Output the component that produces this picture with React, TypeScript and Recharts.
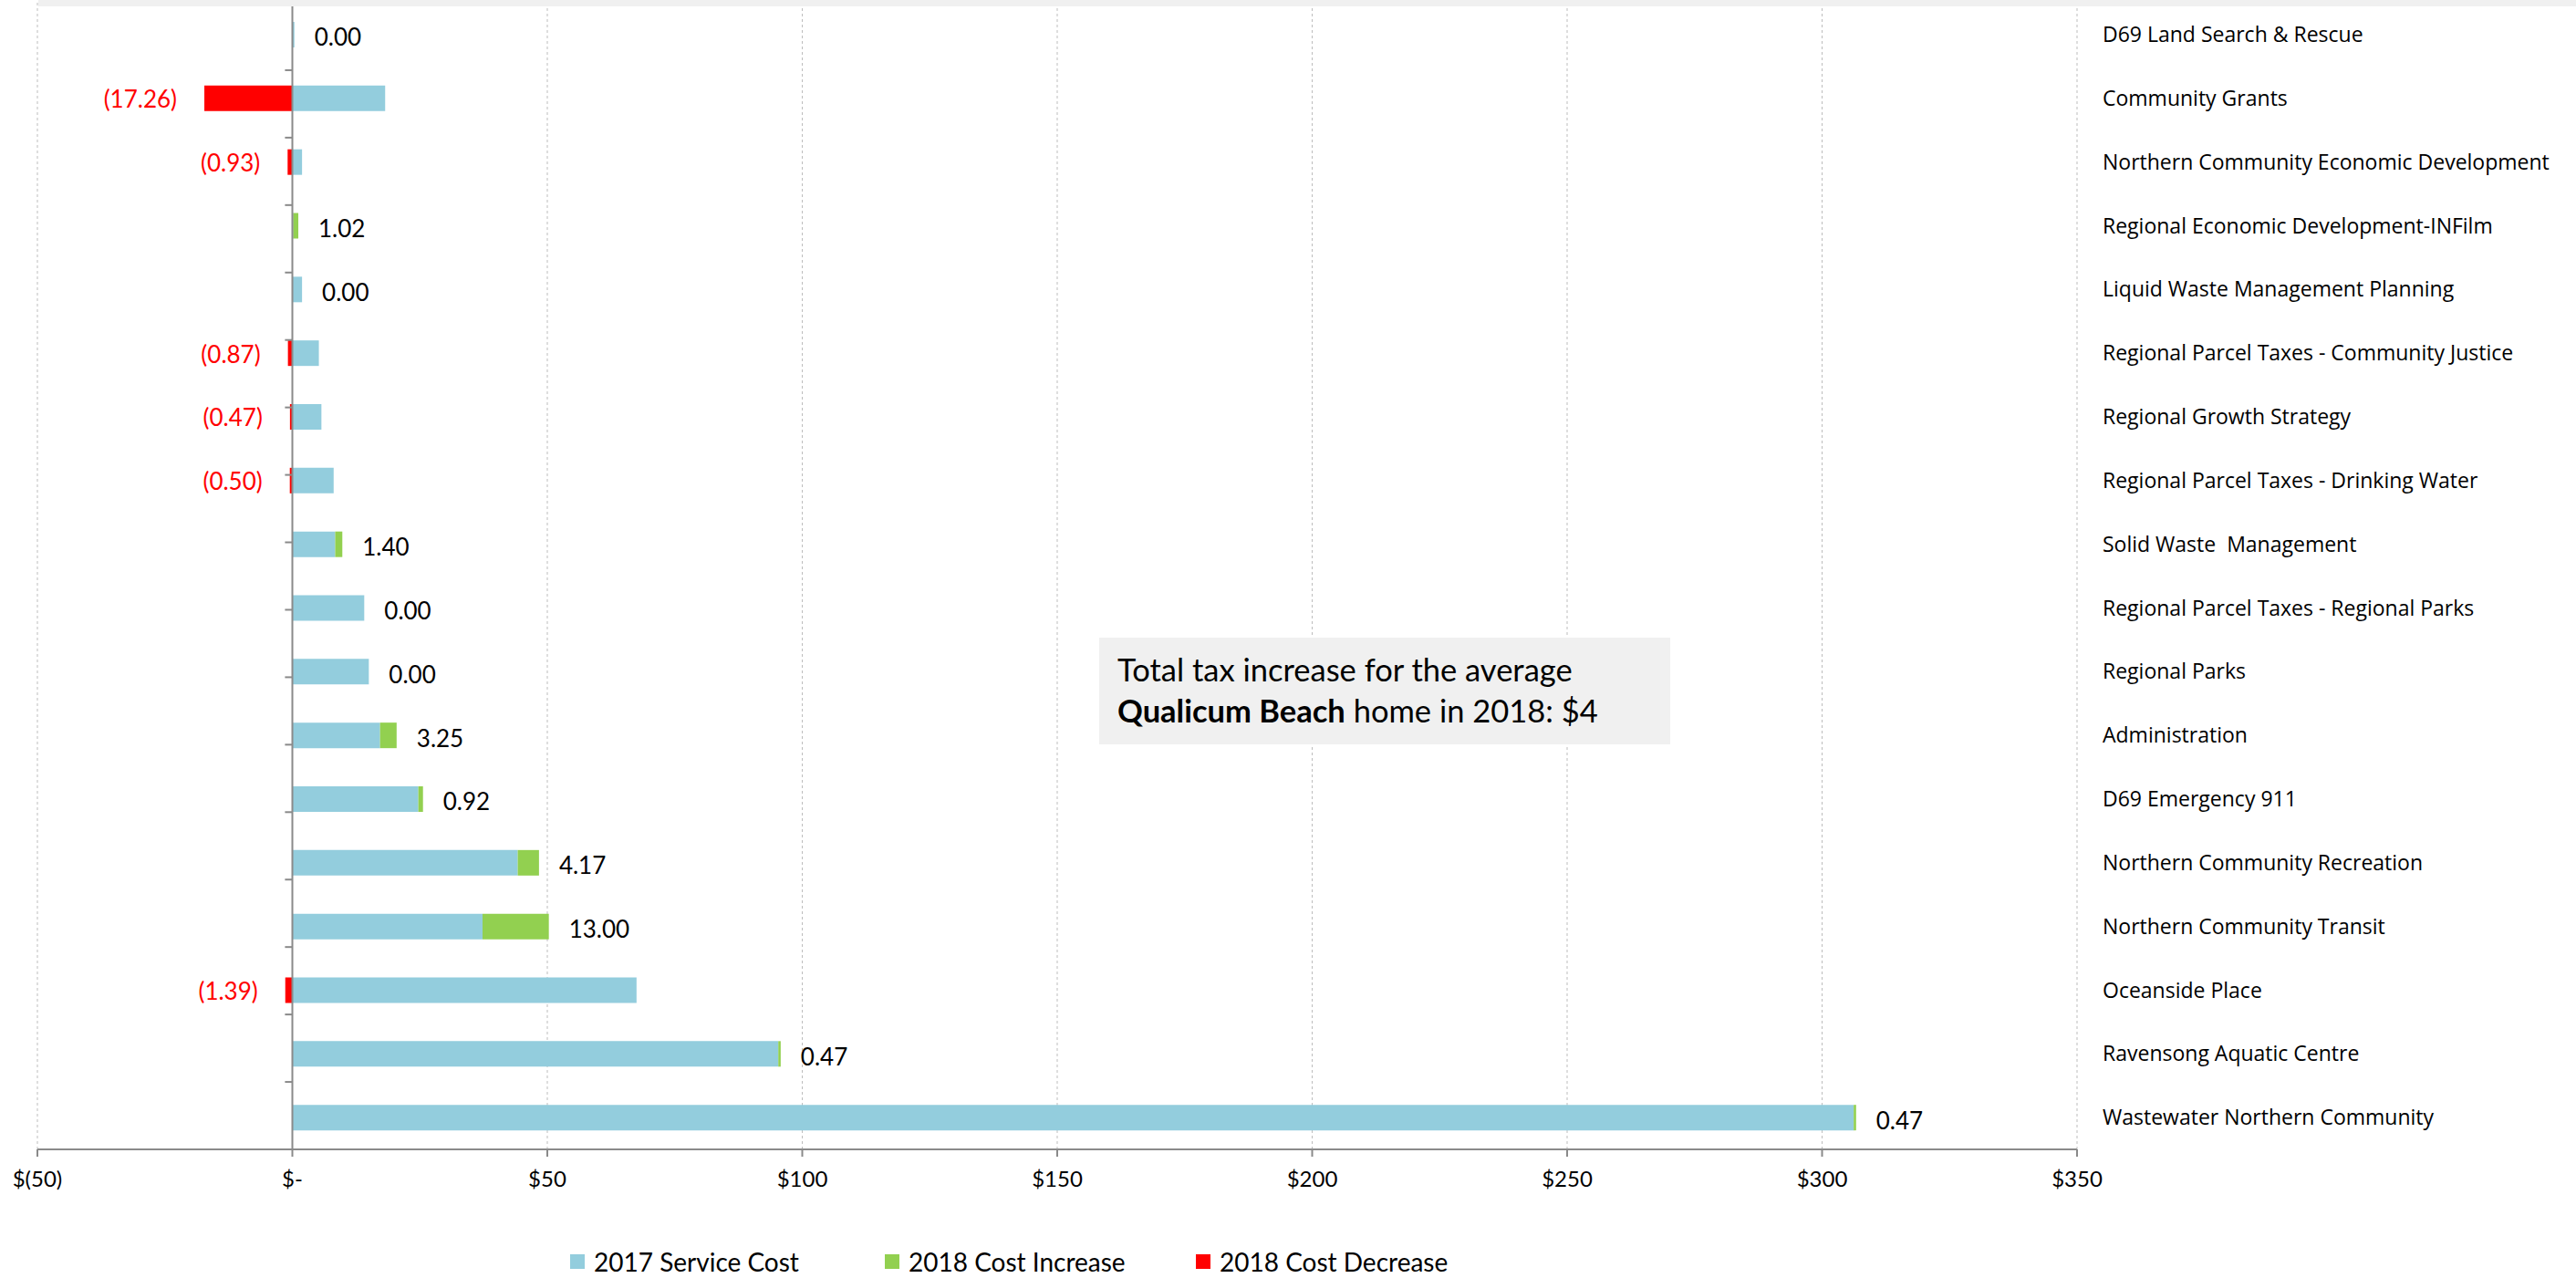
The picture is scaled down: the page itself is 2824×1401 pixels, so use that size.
import React from 'react';
import {
  BarChart, Bar, XAxis, YAxis, CartesianGrid, ReferenceLine, LabelList, Legend,
} from 'recharts';

const categories = [
  'D69 Land Search & Rescue',
  'Community Grants',
  'Northern Community Economic Development',
  'Regional Economic Development-INFilm',
  'Liquid Waste Management Planning',
  'Regional Parcel Taxes - Community Justice',
  'Regional Growth Strategy',
  'Regional Parcel Taxes - Drinking Water',
  'Solid Waste\u00A0 Management',
  'Regional Parcel Taxes - Regional Parks',
  'Regional Parks',
  'Administration',
  'D69 Emergency 911',
  'Northern Community Recreation',
  'Northern Community Transit',
  'Oceanside Place',
  'Ravensong Aquatic Centre',
  'Wastewater Northern Community',
];

const cost2017 = [0.4, 18.2, 1.9, 0.15, 1.9, 5.2, 5.7, 8.1, 8.4, 14.1, 15.0, 17.2, 24.7, 44.2, 37.3, 67.5, 95.3, 306.2];
const increase2018 = [0, 0, 0, 1.02, 0, 0, 0, 0, 1.4, 0, 0, 3.25, 0.92, 4.17, 13.0, 0, 0.47, 0.47];
const decrease2018 = [0, -17.26, -0.93, 0, 0, -0.87, -0.47, -0.5, 0, 0, 0, 0, 0, 0, 0, -1.39, 0, 0];

const xTicks = [-50, 0, 50, 100, 150, 200, 250, 300, 350];
const boundaryIdx = [1, 2, 3, 4, 5, 6, 7, 8, 9, 10, 11, 12, 13, 14, 15, 16, 17];

const seriesNames = ['2017 Service Cost', '2018 Cost Increase', '2018 Cost Decrease'];
const colors = ['#93CDDD', '#92D050', '#FF0000'];

const data = categories.map((name, i) => ({
  name,
  base: cost2017[i],
  inc: increase2018[i],
  dec: decrease2018[i],
  incLabel: decrease2018[i] === 0 && increase2018[i] > 0 ? increase2018[i].toFixed(2) : null,
  zeroLabel: decrease2018[i] === 0 && increase2018[i] === 0 ? increase2018[i].toFixed(2) : null,
  decLabel: decrease2018[i] !== 0 ? `(${Math.abs(decrease2018[i]).toFixed(2)})` : null,
}));

const fmtTick = (v: number) => (v < 0 ? `$(${-v})` : v === 0 ? '$-' : `$${v}`);

const CAL = 'Lato, "Open Sans", sans-serif';
const LABEL_SIZE = 26;

const RightLabel = (props: any) => {
  const { value } = props;
  if (value === null || value === undefined) return null;
  const vb = props.viewBox || props;
  const x = Math.max(vb.x, vb.x + vb.width) + 22;
  const y = vb.y + vb.height / 2 + 3;
  return (
    <text x={x} y={y} dy="0.36em" textAnchor="start" fill="#000" fontFamily={CAL} fontSize={LABEL_SIZE}>
      {value}
    </text>
  );
};

const LeftLabel = (props: any) => {
  const { value } = props;
  if (value === null || value === undefined) return null;
  const vb = props.viewBox || props;
  const x = Math.min(vb.x, vb.x + vb.width) - 30;
  const y = vb.y + vb.height / 2 + 1;
  return (
    <text x={x} y={y} dy="0.36em" textAnchor="end" fill="#FF0000" fontFamily={CAL} fontSize={LABEL_SIZE}>
      {value}
    </text>
  );
};

const LegendContent = () => {
  const widths = [345, 341, 300];
  return (
    <div style={{ height: 36, display: 'flex', alignItems: 'center', paddingLeft: 625, boxSizing: 'border-box' }}>
      {seriesNames.map((n, i) => (
        <div key={n} style={{ width: widths[i], display: 'flex', alignItems: 'center' }}>
          <div style={{ width: 16, height: 16, background: colors[i], marginRight: 10 }} />
          <span style={{ fontFamily: CAL, fontSize: 28, color: '#000', whiteSpace: 'nowrap' }}>{n}</span>
        </div>
      ))}
    </div>
  );
};

export default function App() {
  return (
    <div style={{ position: 'absolute', left: 0, top: 0, width: 2824, height: 1401, background: '#fff' }}>
      <BarChart
        width={2824}
        height={1401}
        data={data}
        layout="vertical"
        stackOffset="sign"
        barSize={28}
        margin={{ top: 3, right: 0, bottom: 0, left: 41 }}
      >
        <CartesianGrid horizontal={false} stroke="#bdbdbd" strokeDasharray="3 3" />
        <XAxis
          type="number"
          domain={[-50, 350]}
          ticks={xTicks}
          tickFormatter={fmtTick}
          allowDataOverflow
          height={105}
          axisLine={{ stroke: '#8a8a8a', strokeWidth: 2 }}
          tickLine={{ stroke: '#8a8a8a', strokeWidth: 2 }}
          tickSize={8}
          tickMargin={16}
          tick={{ fontFamily: CAL, fontSize: 24, fill: '#000' }}
        />
        <YAxis
          type="category"
          dataKey="name"
          orientation="right"
          width={547}
          axisLine={false}
          tickLine={false}
          tickSize={0}
          tickMargin={28}
          interval={0}
          tick={{ fontFamily: '"Open Sans", sans-serif', fontSize: 23, fill: '#000', textAnchor: 'start' }}
        />
        <YAxis yAxisId="idx" type="number" domain={[0, 18]} reversed hide />
        <Legend verticalAlign="bottom" content={<LegendContent />} wrapperStyle={{ left: 0, bottom: 0, width: 2824 }} />
        <Bar dataKey="base" name={seriesNames[0]} stackId="s" fill={colors[0]} isAnimationActive={false}>
          <LabelList dataKey="zeroLabel" content={RightLabel} />
        </Bar>
        <Bar dataKey="inc" name={seriesNames[1]} stackId="s" fill={colors[1]} isAnimationActive={false}>
          <LabelList dataKey="incLabel" content={RightLabel} />
        </Bar>
        <Bar dataKey="dec" name={seriesNames[2]} stackId="s" fill={colors[2]} isAnimationActive={false}>
          <LabelList dataKey="decLabel" content={LeftLabel} />
        </Bar>
        <ReferenceLine x={0} stroke="#8a8a8a" strokeWidth={2} />
        {boundaryIdx.map((k) => (
          <ReferenceLine
            key={k}
            yAxisId="idx"
            segment={[{ x: -1.45, y: k }, { x: 0, y: k }]}
            stroke="#8a8a8a"
            strokeWidth={2}
            ifOverflow="visible"
          />
        ))}
      </BarChart>
      <div style={{ position: 'absolute', left: 42, top: 0, width: 2782, height: 7, background: '#f0f0f0' }} />
      <div
        style={{
          position: 'absolute', left: 1205, top: 699, width: 626, height: 117, background: '#f0f0f0',
          boxSizing: 'border-box', paddingLeft: 20, paddingTop: 12, fontFamily: CAL, fontSize: 34.5,
          lineHeight: '45px', color: '#000', whiteSpace: 'nowrap',
        }}
      >
        <div>Total tax increase for the average</div>
        <div><b>Qualicum Beach</b> home in 2018: $4</div>
      </div>
    </div>
  );
}
